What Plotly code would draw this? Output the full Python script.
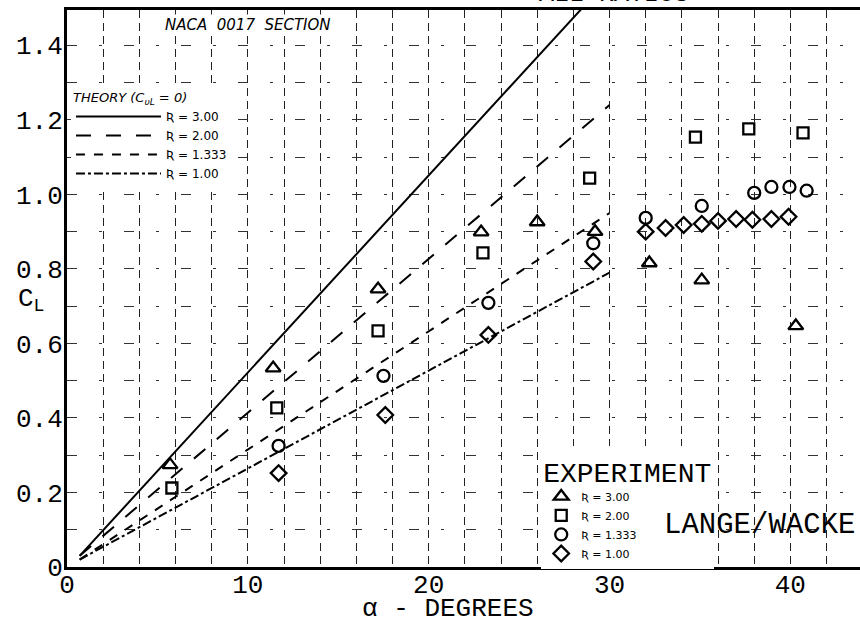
import plotly.graph_objects as go

# ---------------- data ----------------
# theory lines (end points)
theory_alpha = [0.7, 30.0]
theory_ar300 = [0.03, 1.58]
theory_ar200 = [0.03, 1.24]
theory_ar1333 = [0.02, 0.95]
theory_ar100 = [0.02, 0.79]

# experiment (Lange / Wacke)
exp300_alpha = [5.7, 11.4, 17.2, 22.9, 26.0, 29.2, 32.2, 35.1, 40.3]
exp300_cl = [0.274, 0.534, 0.746, 0.899, 0.926, 0.90, 0.816, 0.77, 0.647]

exp200_alpha = [5.8, 11.6, 17.2, 23.0, 28.9, 34.75, 37.7, 40.7]
exp200_cl = [0.212, 0.427, 0.634, 0.843, 1.044, 1.154, 1.176, 1.165]

exp1333_alpha = [11.7, 17.5, 23.3, 29.1, 32.0, 35.1, 38.0, 38.95, 39.95, 40.9]
exp1333_cl = [0.325, 0.513, 0.709, 0.869, 0.937, 0.969, 1.004, 1.02, 1.02, 1.01]

exp100_alpha = [11.7, 17.6, 23.3, 29.1, 32.0, 33.1, 34.1, 35.1, 36.0, 37.0, 37.9, 38.95, 39.9]
exp100_cl = [0.252, 0.408, 0.623, 0.82, 0.90, 0.91, 0.918, 0.921, 0.929, 0.934, 0.932, 0.934, 0.94]

x_ticks = [0, 10, 20, 30, 40]
x_ticklabels = ["0", "10", "20", "30", "40"]
y_ticks = [0, 0.2, 0.4, 0.6, 0.8, 1.0, 1.2, 1.4]
y_ticklabels = ["0", "0.2", "0.4", "0.6", "0.8", "1.0", "1.2", "1.4"]

theory_names = ["Ʀ = 3.00", "Ʀ = 2.00", "Ʀ = 1.333", "Ʀ = 1.00"]
exp_names = ["Ʀ = 3.00", "Ʀ = 2.00", "Ʀ = 1.333", "Ʀ = 1.00"]

MONO = "Liberation Mono"
HAND = "DejaVu Sans"

fig = go.Figure()

theory_sets = [theory_ar300, theory_ar200, theory_ar1333, theory_ar100]
dashes = ["solid", "longdash", "dash", "dashdot"]
for name, cl, d in zip(theory_names, theory_sets, dashes):
    fig.add_trace(go.Scatter(
        x=theory_alpha, y=cl, mode="lines", name=name,
        line=dict(color="black", width=2, dash=d),
        legend="legend",
    ))

exp_sets = [(exp300_alpha, exp300_cl, "triangle-up-open", 13),
            (exp200_alpha, exp200_cl, "square-open", 11),
            (exp1333_alpha, exp1333_cl, "circle-open", 12),
            (exp100_alpha, exp100_cl, "diamond-open", 12)]
for name, (xa, ya, sym, sz) in zip(exp_names, exp_sets):
    fig.add_trace(go.Scatter(
        x=xa, y=ya, mode="markers", name=name,
        marker=dict(symbol=sym, size=sz, color="black", line=dict(color="black", width=2.3)),
        legend="legend2",
    ))

fig.update_layout(
    width=860, height=627,
    margin=dict(l=67, r=0, t=10, b=60, autoexpand=False),
    paper_bgcolor="white", plot_bgcolor="white",
    font=dict(family=MONO, color="black"),
    legend=dict(
        x=0.005, y=0.865, xanchor="left", yanchor="top",
        bgcolor="white", borderwidth=0,
        title=dict(text="<i>THEORY (C<sub>υL</sub> = 0)</i>", font=dict(family=HAND, size=13)),
        font=dict(family=HAND, size=12),
        itemwidth=85, tracegroupgap=0,
    ),
    legend2=dict(
        x=0.598, y=0.218, xanchor="left", yanchor="top",
        bgcolor="white", borderwidth=0,
        title=dict(text="EXPERIMENT", font=dict(family=MONO, size=28)),
        font=dict(family=HAND, size=11),
        itemwidth=30, tracegroupgap=0,
    ),
    showlegend=True,
)

fig.update_xaxes(
    range=[0, 43.85], automargin=False,
    tickvals=x_ticks, ticktext=x_ticklabels,
    tickfont=dict(family=MONO, size=26), ticklabelstandoff=-8,
    showline=True, linecolor="black", linewidth=3, mirror=True,
    ticks="", zeroline=False,
    showgrid=True, gridcolor="#222", gridwidth=1.3, griddash="8px,5px",
    minor=dict(dtick=2, showgrid=True, gridcolor="#222", gridwidth=1.3, griddash="8px,5px"),
)
fig.update_yaxes(
    range=[0, 1.495], automargin=False,
    tickvals=y_ticks, ticktext=y_ticklabels,
    tickfont=dict(family=MONO, size=26), ticklabelstandoff=-4,
    showline=True, linecolor="black", linewidth=3, mirror=False,
    ticks="", zeroline=False,
    showgrid=True, gridcolor="#333", gridwidth=1, griddash="10px,22px,3px,22px",
    minor=dict(dtick=0.1, showgrid=True, gridcolor="#333", gridwidth=1, griddash="10px,22px,3px,22px"),
)

annotations = [
    dict(text="<i>NACA  0017  SECTION</i>", x=0.228, y=0.973, xref="paper", yref="paper",
         showarrow=False, font=dict(family=HAND, size=15), bgcolor="white",
         xanchor="center", yanchor="middle"),
    dict(text="C<sub>L</sub>", x=-0.045, y=0.48, xref="paper", yref="paper",
         showarrow=False, font=dict(family=MONO, size=26), xanchor="center", yanchor="middle"),
    dict(text="α - DEGREES", x=0.48, y=-0.106, xref="paper", yref="paper",
         showarrow=False, font=dict(family=MONO, size=26), xanchor="center", yanchor="bottom"),
    dict(text="LANGE/WACKE", x=0.996, y=0.075, xref="paper", yref="paper",
         showarrow=False, font=dict(family=MONO, size=29), xanchor="right", yanchor="middle"),
    dict(text="ALL RATIOS", x=0.69, y=0.9985, xref="paper", yref="paper",
         showarrow=False, font=dict(family=MONO, size=25), xanchor="center", yanchor="bottom"),
]
fig.update_layout(annotations=annotations)

fig.write_html("out.html", post_script="document.body.style.margin='0';",
               config={"displayModeBar": False})
